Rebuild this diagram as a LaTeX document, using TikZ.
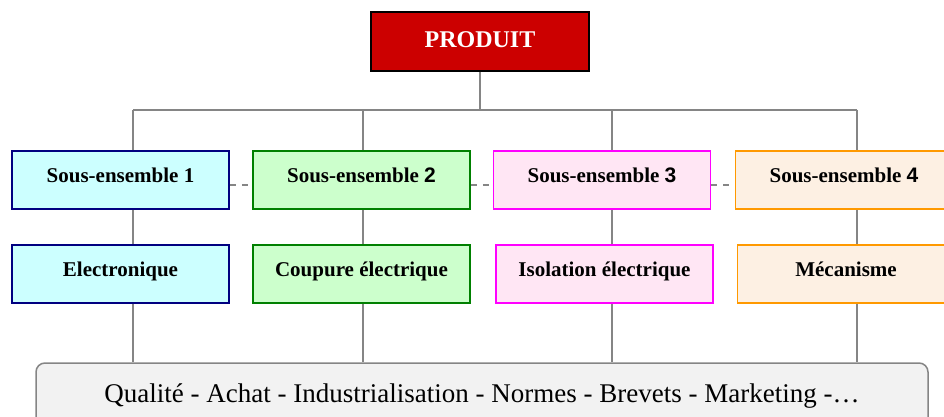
\documentclass[tikz,border=0pt]{standalone}
\usepackage{fontspec}
\setmainfont{Liberation Serif}
\newfontfamily\digitfont{Liberation Sans}
\begin{document}
\begin{tikzpicture}[x=1pt,y=-1pt,
  link/.style={draw=linegray,line width=1.5pt},
  sidelink/.style={draw=linegray,line width=1.5pt,dash pattern=on 6pt off 6pt},
  topbox/.style={draw=black,line width=2pt,fill=prodred,text=white,
    font=\bfseries\fontsize{24}{28}\selectfont,inner sep=0pt,
    minimum width=218pt,minimum height=59pt,text height=13pt,text depth=0pt},
  subbox/.style={line width=1.8pt,font=\bfseries\fontsize{21}{25}\selectfont,
    inner sep=0pt,minimum width=217pt,minimum height=58pt,
    text height=8pt,text depth=4pt},
  grp1/.style={subbox,draw=navyline,fill=cyanfill},
  grp2/.style={subbox,draw=greenline,fill=greenfill},
  grp3/.style={subbox,draw=magline,fill=pinkfill},
  grp4/.style={subbox,draw=orangeline,fill=peachfill},
  basebox/.style={draw=linegray,line width=1.5pt,fill=basefill,rounded corners=9pt,
    font=\fontsize{27}{31}\selectfont,inner sep=0pt,
    minimum width=892pt,minimum height=64pt,text height=14pt,text depth=0pt}
]
\definecolor{prodred}{HTML}{CC0000}
\definecolor{linegray}{HTML}{858585}
\definecolor{navyline}{HTML}{000080}
\definecolor{cyanfill}{HTML}{CCFFFF}
\definecolor{greenline}{HTML}{008000}
\definecolor{greenfill}{HTML}{CCFFCC}
\definecolor{magline}{HTML}{FF00FF}
\definecolor{pinkfill}{HTML}{FFE6F4}
\definecolor{orangeline}{HTML}{FF9900}
\definecolor{peachfill}{HTML}{FDF0E3}
\definecolor{basefill}{HTML}{F2F2F2}

\useasboundingbox (0,0) rectangle (944,417);
\clip (0,0) rectangle (944,417);

% top product box
\node[topbox] (prod) at (480,41.5) {PRODUIT};

% branch positions on the distribution bar
\coordinate (hub) at (480,110);
\coordinate (b1) at (133,110);
\coordinate (b2) at (363,110);
\coordinate (b3) at (612,110);
\coordinate (b4) at (857,110);

% sub-assemblies
\node[grp1] (s1) at (120.5,180) {Sous-ensemble 1};
\node[grp2] (s2) at (361.5,180) {Sous-ensemble {\digitfont 2}};
\node[grp3] (s3) at (602,180) {Sous-ensemble {\digitfont 3}};
\node[grp4] (s4) at (844,180) {Sous-ensemble {\digitfont 4}};

% functions
\node[grp1] (f1) at (120.5,274) {Electronique};
\node[grp2] (f2) at (361.5,274) {Coupure électrique};
\node[grp3] (f3) at (604.5,274) {Isolation électrique};
\node[grp4] (f4) at (846,274) {Mécanisme};

% transverse services
\node[basebox] (base) at (482,395) {Qualité - Achat - Industrialisation - Normes - Brevets - Marketing -…};

% tree connectors
\draw[link] (prod.south) -- (hub);
\draw[link] (b1) -- (b4);
\foreach \i in {1,2,3,4}{
  \draw[link] (b\i) -- (b\i |- s\i.north);
  \draw[link] (b\i |- s\i.south) -- (b\i |- f\i.north);
  \draw[link] (b\i |- f\i.south) -- (b\i |- base.north);
}

% dashed links between neighbouring sub-assemblies
\draw[sidelink] ([yshift=-5pt]s1.east) -- ([yshift=-5pt]s2.west);
\draw[sidelink] ([yshift=-5pt]s2.east) -- ([yshift=-5pt]s3.west);
\draw[sidelink] ([yshift=-5pt]s3.east) -- ([yshift=-5pt]s4.west);
\end{tikzpicture}
\end{document}
